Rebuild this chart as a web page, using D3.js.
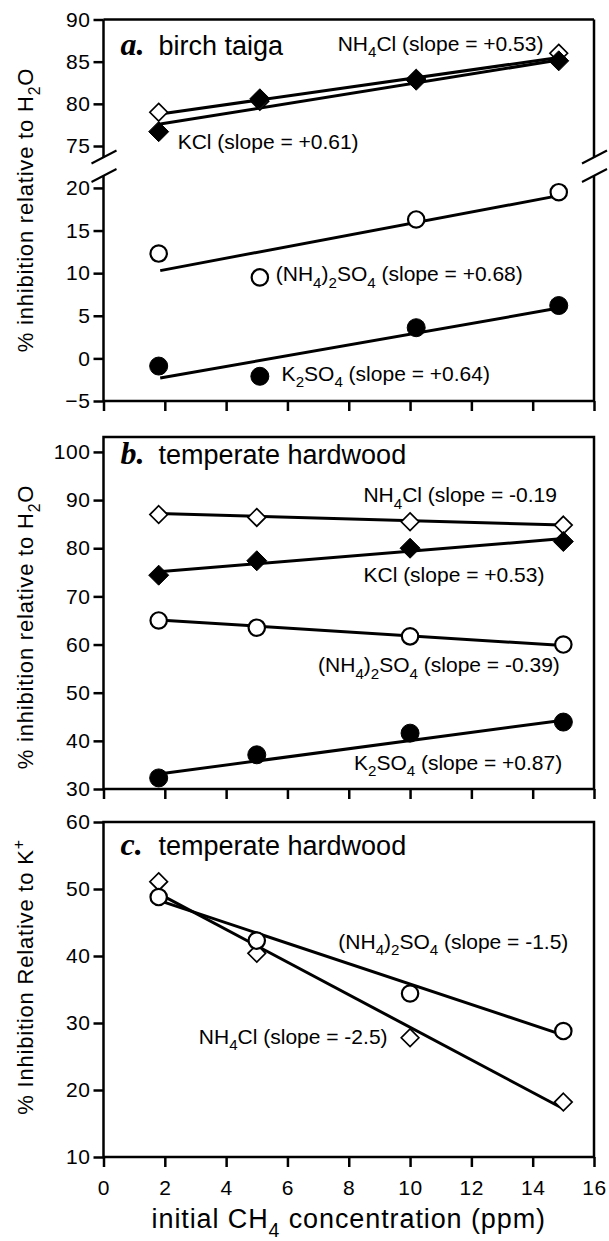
<!DOCTYPE html>
<html>
<head>
<meta charset="utf-8">
<script src="https://cdn.jsdelivr.net/npm/d3@7"></script>
<style>
  body { margin: 0; background: #fff; }
  text { font-family: "Liberation Sans", Arial, sans-serif; fill: #000; }
</style>
</head>
<body>
<svg id="chart" width="609" height="1241"></svg>
<script>
// ---- data ----
const xTicks = [0, 2, 4, 6, 8, 10, 12, 14, 16];
const yTicksAUp = [75, 80, 85, 90];
const yTicksALo = [-5, 0, 5, 10, 15, 20];
const yTicksB = [30, 40, 50, 60, 70, 80, 90, 100];
const yTicksC = [10, 20, 30, 40, 50, 60];

// initial CH4 (ppm)
const concA = [1.8, 5.1, 10.2, 14.85];
const concBC = [1.8, 5, 10, 15];
const fitXA = [1.85, 14.85];
const fitXBC = [1.8, 15];

// a. birch taiga
const nh4clA = [79.0, 80.3, 83.0, 86.0];
const kclA = [76.7, 80.6, 82.8, 85.1];
const nh42so4A = [12.3, 9.5, 16.3, 19.5];
const k2so4A = [-0.9, -2.1, 3.6, 6.2];
const fitNh4clA = [78.8, 85.5];
const fitKclA = [77.6, 85.2];
const fitNh42so4A = [10.3, 19.1];
const fitK2so4A = [-2.3, 5.9];

// b. temperate hardwood
const nh4clB = [87.0, 86.4, 85.5, 84.8];
const kclB = [74.4, 77.4, 80.0, 81.4];
const nh42so4B = [65.0, 63.5, 61.7, 60.0];
const k2so4B = [32.3, 37.1, 41.6, 43.9];
const fitNh4clB = [87.2, 84.8];
const fitKclB = [75.1, 82.0];
const fitNh42so4B = [65.1, 59.8];
const fitK2so4B = [33.1, 44.3];

// c. temperate hardwood, relative to K+
const nh42so4C = [48.8, 42.3, 34.4, 28.8];
const nh4clC = [51.1, 40.4, 27.8, 18.2];
const fitNh42so4C = [48.3, 28.2];
const fitNh4clC = [49.3, 17.2];

// ---- drawing ----
const svg = d3.select("#chart");
svg.append("rect").attr("width", 609).attr("height", 1241).attr("fill", "#fff");

const x = d3.scaleLinear().domain([0, 16]).range([103.5, 594]);
const yAUp = d3.scaleLinear().domain([73.4, 90]).range([159.5, 19.5]);
const yALo = d3.scaleLinear().domain([-5, 21.4]).range([401, 176]);
const yB = d3.scaleLinear().domain([30, 103.1]).range([789, 437]);
const yC = d3.scaleLinear().domain([10, 60]).range([1157, 822]);

const SW = 2.5;

// text with _x subscripts and ^x superscripts
function richText(sel, str, size) {
  var parts = [];
  for (var i = 0; i < str.length; i++) {
    var c = str[i];
    if ((c === "_" || c === "^") && i + 1 < str.length) {
      parts.push({t: str[i + 1], k: c}); i++;
    } else if (parts.length && parts[parts.length - 1].k === "n") {
      parts[parts.length - 1].t += c;
    } else {
      parts.push({t: c, k: "n"});
    }
  }
  var shift = 0;
  parts.forEach(function(p) {
    var target = p.k === "_" ? 0.32 * size : p.k === "^" ? -0.42 * size : 0;
    sel.append("tspan")
      .attr("dy", target - shift)
      .style("font-size", p.k === "n" ? size + "px" : (0.72 * size) + "px")
      .text(p.t);
    shift = target;
  });
}

function label(yScale, xv, yv, str) {
  var t = svg.append("text")
    .attr("x", x(xv)).attr("y", yScale(yv))
    .style("font-size", "21px");
  richText(t, str, 21);
}

function title(yScale, yv, letter, str) {
  svg.append("text")
    .attr("x", x(0) + 17).attr("y", yScale(yv))
    .style("font-family", "'Liberation Serif', 'Times New Roman', serif")
    .style("font-weight", "bold").style("font-style", "italic")
    .style("font-size", "32px")
    .text(letter + ".");
  svg.append("text")
    .attr("x", x(0) + 55).attr("y", yScale(yv))
    .style("font-size", "27px")
    .text(str);
}

function yTitle(cy, str) {
  var t = svg.append("text")
    .attr("transform", "translate(33," + cy + ") rotate(-90)")
    .attr("text-anchor", "middle")
    .style("font-size", "22px")
    .style("letter-spacing", "0.8px");
  richText(t, str, 22);
}

function styleAxis(a) {
  a.select(".domain").remove();
  a.selectAll(".tick line").attr("stroke", "#000").attr("stroke-width", SW);
  a.selectAll(".tick text")
    .attr("fill", "#000")
    .style("font-family", "'Liberation Sans', Arial, sans-serif")
    .style("font-size", "21px")
    .style("letter-spacing", "0.6px");
}

function yAxis(scale, ticks) {
  svg.append("g")
    .attr("transform", "translate(" + x(0) + ",0)")
    .call(d3.axisLeft(scale).tickValues(ticks).tickSize(10).tickPadding(3).tickSizeOuter(0))
    .call(styleAxis);
}

function xAxis(yPix, withLabels) {
  var ax = d3.axisBottom(x).tickValues(xTicks).tickSize(10).tickPadding(13).tickSizeOuter(0);
  if (!withLabels) ax.tickFormat("");
  svg.append("g")
    .attr("transform", "translate(0," + yPix + ")")
    .call(ax)
    .call(styleAxis);
}

function frame(top, bottom) {
  svg.append("rect")
    .attr("x", x(0)).attr("y", top)
    .attr("width", x(16) - x(0)).attr("height", bottom - top)
    .attr("fill", "none").attr("stroke", "#000").attr("stroke-width", SW);
}

function fitLine(yScale, fx, fy) {
  svg.append("line")
    .attr("x1", x(fx[0])).attr("y1", yScale(fy[0]))
    .attr("x2", x(fx[1])).attr("y2", yScale(fy[1]))
    .attr("stroke", "#000").attr("stroke-width", 3);
}

function markers(yScale, xs, ys, shape, filled) {
  var pts = xs.map(function(v, i) { return [v, ys[i]]; });
  var g = svg.append("g");
  if (shape === "circle") {
    g.selectAll("circle").data(pts).enter().append("circle")
      .attr("cx", function(d) { return x(d[0]); })
      .attr("cy", function(d) { return yScale(d[1]); })
      .attr("r", filled ? 9 : 8.2)
      .attr("fill", filled ? "#000" : "#fff")
      .attr("stroke", "#000").attr("stroke-width", filled ? 1 : 2.2);
  } else {
    var s = filled ? 10 : 8.8;
    g.selectAll("path").data(pts).enter().append("path")
      .attr("transform", function(d) { return "translate(" + x(d[0]) + "," + yScale(d[1]) + ")"; })
      .attr("d", "M0," + (-s) + "L" + s + ",0L0," + s + "L" + (-s) + ",0Z")
      .attr("fill", filled ? "#000" : "#fff")
      .attr("stroke", "#000").attr("stroke-width", filled ? 1 : 1.7);
  }
}

// ---------- panel a (broken axis) ----------
(function() {
  var top = yAUp(90), bot = yALo(-5);
  var gapTop = yAUp(73.4) - 2, gapBot = yALo(21.4) - 2;
  var xl = x(0), xr = x(16);
  var f = svg.append("g").attr("stroke", "#000").attr("stroke-width", SW).attr("fill", "none");
  f.append("line").attr("x1", xl).attr("x2", xr).attr("y1", top).attr("y2", top);
  f.append("line").attr("x1", xl).attr("x2", xr).attr("y1", bot).attr("y2", bot);
  [xl, xr].forEach(function(xx) {
    f.append("line").attr("x1", xx).attr("x2", xx).attr("y1", top).attr("y2", gapTop);
    f.append("line").attr("x1", xx).attr("x2", xx).attr("y1", gapBot + 2).attr("y2", bot);
    // break slashes
    f.append("line").attr("x1", xx - 12).attr("y1", gapTop + 6).attr("x2", xx + 13).attr("y2", gapTop - 7)
      .attr("stroke-width", 2);
    f.append("line").attr("x1", xx - 12).attr("y1", gapBot + 8).attr("x2", xx + 13).attr("y2", gapBot - 5)
      .attr("stroke-width", 2);
  });
  yAxis(yAUp, yTicksAUp);
  yAxis(yALo, yTicksALo);
  xAxis(bot, false);

  fitLine(yAUp, fitXA, fitNh4clA);
  fitLine(yAUp, fitXA, fitKclA);
  fitLine(yALo, fitXA, fitNh42so4A);
  fitLine(yALo, fitXA, fitK2so4A);
  markers(yAUp, concA, nh4clA, "diamond", false);
  markers(yAUp, concA, kclA, "diamond", true);
  markers(yALo, concA, nh42so4A, "circle", false);
  markers(yALo, concA, k2so4A, "circle", true);

  title(yAUp, 85.8, "a", "birch taiga");
  label(yAUp, 7.64, 86.3, "NH_4Cl (slope = +0.53)");
  label(yAUp, 2.42, 74.6, "KCl (slope = +0.61)");
  label(yALo, 5.62, 9.1, "(NH_4)_2SO_4 (slope = +0.68)");
  label(yALo, 5.81, -2.6, "K_2SO_4 (slope = +0.64)");
  yTitle(210, "% inhibition relative to H_2O");
})();

// ---------- panel b ----------
(function() {
  frame(yB(103.1), yB(30));
  yAxis(yB, yTicksB);
  xAxis(yB(30), false);

  fitLine(yB, fitXBC, fitNh4clB);
  fitLine(yB, fitXBC, fitKclB);
  fitLine(yB, fitXBC, fitNh42so4B);
  fitLine(yB, fitXBC, fitK2so4B);
  markers(yB, concBC, nh4clB, "diamond", false);
  markers(yB, concBC, nh42so4B, "circle", false);
  markers(yB, concBC, kclB, "diamond", true);
  markers(yB, concBC, k2so4B, "circle", true);

  title(yB, 97.4, "b", "temperate hardwood");
  label(yB, 8.48, 89.6, "NH_4Cl (slope = -0.19");
  label(yB, 8.48, 72.9, "KCl (slope = +0.53)");
  label(yB, 7.0, 54.3, "(NH_4)_2SO_4 (slope = -0.39)");
  label(yB, 8.17, 34.0, "K_2SO_4 (slope = +0.87)");
  yTitle(627, "% inhibition relative to H_2O");
})();

// ---------- panel c ----------
(function() {
  frame(yC(60), yC(10));
  yAxis(yC, yTicksC);
  xAxis(yC(10), true);

  fitLine(yC, fitXBC, fitNh42so4C);
  fitLine(yC, fitXBC, fitNh4clC);
  markers(yC, concBC, nh4clC, "diamond", false);
  markers(yC, concBC, nh42so4C, "circle", false);

  title(yC, 55.1, "c", "temperate hardwood");
  label(yC, 7.66, 41.1, "(NH_4)_2SO_4 (slope = -1.5)");
  label(yC, 3.11, 26.9, "NH_4Cl (slope = -2.5)");
  yTitle(977, "% Inhibition Relative to K^+");

  var t = svg.append("text")
    .attr("x", (x(0) + x(16)) / 2).attr("y", 1228)
    .attr("text-anchor", "middle")
    .style("font-size", "27px")
    .style("letter-spacing", "0.9px");
  richText(t, "initial CH_4 concentration (ppm)", 27);
})();
</script>
</body>
</html>
